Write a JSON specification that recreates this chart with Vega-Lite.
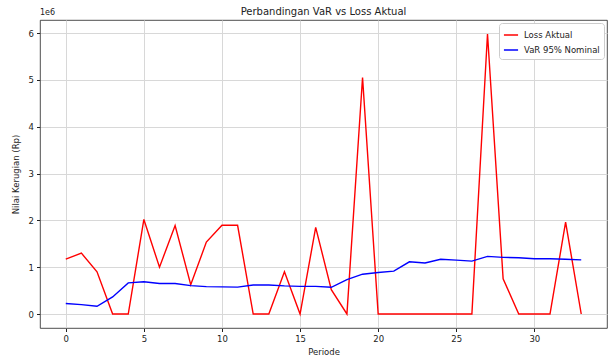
{
  "$schema": "https://vega.github.io/schema/vega-lite/v6.json",
  "autosize": "none",
  "width": 567,
  "height": 308,
  "padding": {"left": 40, "top": 20, "right": 1, "bottom": 28},
  "background": "white",
  "config": {
    "font": "DejaVu Sans",
    "view": {"stroke": "#222222", "strokeWidth": 0.8},
    "axis": {
      "labelFont": "DejaVu Sans", "labelFontSize": 8.5, "labelColor": "#222222",
      "titleFont": "DejaVu Sans", "titleFontSize": 8.5, "titleFontWeight": "normal", "titleColor": "#222222",
      "tickColor": "#222222", "tickSize": 3.5, "domain": false,
      "gridColor": "#d8d8d8", "gridWidth": 1
    },
    "legend": {"labelFont": "DejaVu Sans", "labelFontSize": 8.5, "labelColor": "#222222"}
  },
  "title": {"text": "Perbandingan VaR vs Loss Aktual", "font": "DejaVu Sans", "fontSize": 10, "fontWeight": "normal", "color": "#222222", "offset": -8},
  "data": {"values": [
    {"periode": 0, "loss": 1170000, "var": 225000},
    {"periode": 1, "loss": 1300000, "var": 200000},
    {"periode": 2, "loss": 900000, "var": 165000},
    {"periode": 3, "loss": 0, "var": 365000},
    {"periode": 4, "loss": 0, "var": 665000},
    {"periode": 5, "loss": 2020000, "var": 690000},
    {"periode": 6, "loss": 1000000, "var": 650000},
    {"periode": 7, "loss": 1890000, "var": 650000},
    {"periode": 8, "loss": 625000, "var": 605000},
    {"periode": 9, "loss": 1535000, "var": 585000},
    {"periode": 10, "loss": 1895000, "var": 580000},
    {"periode": 11, "loss": 1895000, "var": 575000},
    {"periode": 12, "loss": 0, "var": 620000},
    {"periode": 13, "loss": 0, "var": 620000},
    {"periode": 14, "loss": 900000, "var": 600000},
    {"periode": 15, "loss": 0, "var": 590000},
    {"periode": 16, "loss": 1850000, "var": 590000},
    {"periode": 17, "loss": 520000, "var": 570000},
    {"periode": 18, "loss": 0, "var": 735000},
    {"periode": 19, "loss": 5050000, "var": 850000},
    {"periode": 20, "loss": 0, "var": 885000},
    {"periode": 21, "loss": 0, "var": 915000},
    {"periode": 22, "loss": 0, "var": 1115000},
    {"periode": 23, "loss": 0, "var": 1090000},
    {"periode": 24, "loss": 0, "var": 1170000},
    {"periode": 25, "loss": 0, "var": 1150000},
    {"periode": 26, "loss": 0, "var": 1130000},
    {"periode": 27, "loss": 5980000, "var": 1230000},
    {"periode": 28, "loss": 750000, "var": 1210000},
    {"periode": 29, "loss": 0, "var": 1200000},
    {"periode": 30, "loss": 0, "var": 1180000},
    {"periode": 31, "loss": 0, "var": 1180000},
    {"periode": 32, "loss": 1960000, "var": 1170000},
    {"periode": 33, "loss": 0, "var": 1155000}
  ]},
  "layer": [
    {
      "transform": [{"fold": ["loss", "var"], "as": ["key", "value"]}],
      "mark": {"type": "line", "strokeWidth": 1.4, "clip": true},
      "encoding": {
        "x": {"field": "periode", "type": "quantitative",
              "scale": {"domain": [-1.65, 34.65], "nice": false, "zero": false},
              "axis": {"values": [0, 5, 10, 15, 20, 25, 30], "title": "Periode", "titlePadding": 4, "labelPadding": 3}},
        "y": {"field": "value", "type": "quantitative",
              "scale": {"domain": [-299000, 6279000], "nice": false, "zero": false},
              "axis": {"values": [0, 1000000, 2000000, 3000000, 4000000, 5000000, 6000000],
                       "labelExpr": "format(datum.value / 1000000, 'd')",
                       "title": "Nilai Kerugian (Rp)", "titlePadding": 8, "labelPadding": 3}},
        "color": {"field": "key", "type": "nominal",
                  "scale": {"domain": ["loss", "var"], "range": ["#ff0000", "#0000ff"]},
                  "legend": {"title": null, "orient": "top-right", "offset": 3,
                             "labelExpr": "datum.value == 'loss' ? 'Loss Aktual' : 'VaR 95% Nominal'",
                             "symbolType": "stroke", "symbolSize": 200, "symbolStrokeWidth": 1.5,
                             "strokeColor": "#cccccc", "fillColor": "white", "padding": 4, "cornerRadius": 3,
                             "rowPadding": 2, "labelOffset": 5}}
      }
    },
    {
      "data": {"values": [{"label": "1e6"}]},
      "mark": {"type": "text", "align": "left", "baseline": "bottom", "dy": -3, "dx": 0, "fontSize": 8, "color": "#222222", "clip": false},
      "encoding": {
        "x": {"datum": -1.65, "type": "quantitative"},
        "y": {"datum": 6279000, "type": "quantitative"},
        "text": {"field": "label"}
      }
    }
  ]
}
